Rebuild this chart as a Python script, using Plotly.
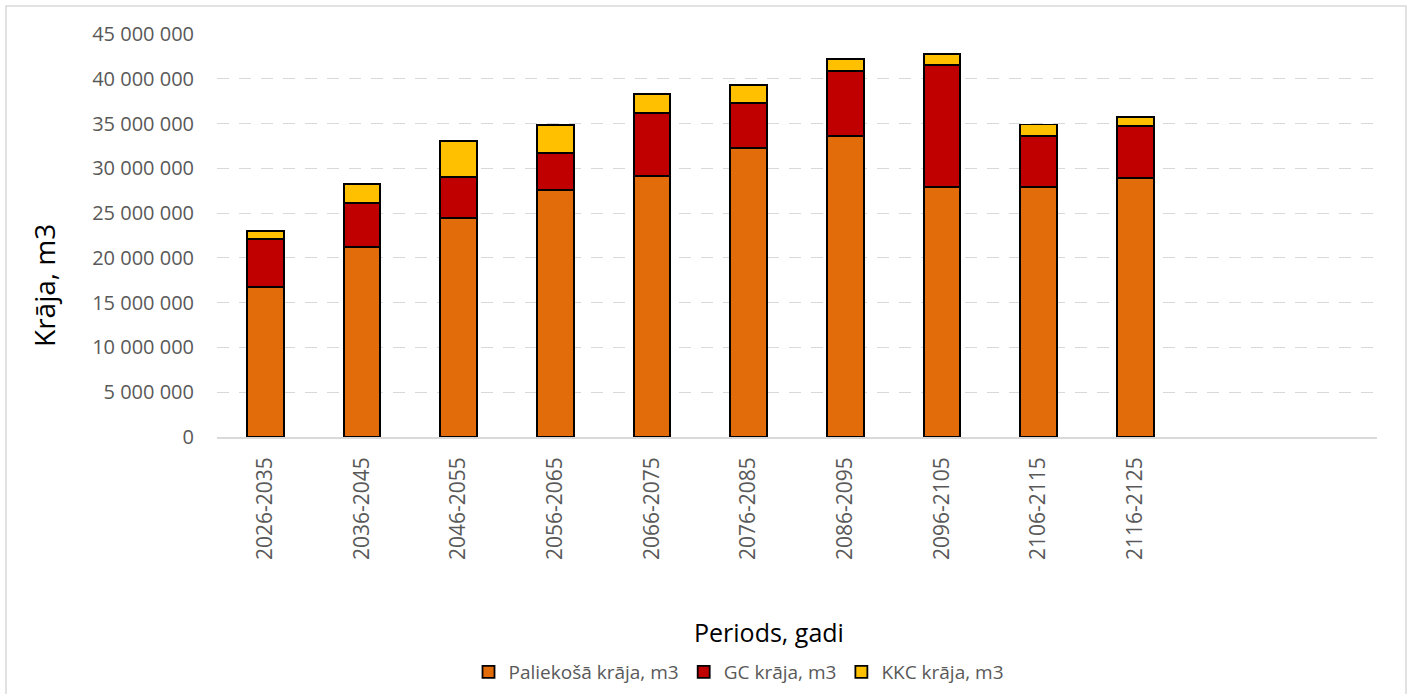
import plotly.graph_objects as go

periods = ["2026-2035", "2036-2045", "2046-2055", "2056-2065", "2066-2075",
           "2076-2085", "2086-2095", "2096-2105", "2106-2115", "2116-2125"]
paliekosa = [16.72e6, 21.25e6, 24.45e6, 27.58e6, 29.14e6, 32.23e6, 33.61e6, 27.95e6, 27.95e6, 28.95e6]
gc = [5.42e6, 4.84e6, 4.61e6, 4.17e6, 7.04e6, 5.03e6, 7.29e6, 13.62e6, 5.65e6, 5.78e6]
kkc = [0.90e6, 2.16e6, 4.02e6, 3.12e6, 2.12e6, 2.04e6, 1.30e6, 1.19e6, 1.30e6, 1.04e6]

series_names = ["Paliekošā krāja, m3", "GC krāja, m3", "KKC krāja, m3"]
colors = ["#E36C0A", "#C00000", "#FFC000"]

FONT = "Open Sans"
GRAY = "#595959"

fig = go.Figure()
for name, vals, col in zip(series_names, [paliekosa, gc, kkc], colors):
    fig.add_trace(go.Bar(
        x=periods, y=vals, name=name, width=0.38,
        marker=dict(color=col, line=dict(color="#000000", width=1.8)),
    ))

W, H = 1412, 694
L, R, T, B = 217, 35, 34, 257
pw, ph = W - L - R, H - T - B

def px_x(x):
    return (x - L) / pw

def px_y(y):
    return (H - B - y) / ph

fig.update_layout(
    template="none",
    barmode="stack",
    width=W, height=H,
    margin=dict(l=L, r=R, t=T, b=B, autoexpand=False),
    paper_bgcolor="white", plot_bgcolor="white",
    separators=", ",
    font=dict(family=FONT, color=GRAY, size=20),
    showlegend=True,
    legend=dict(orientation="h", x=px_x(739), y=px_y(672), xanchor="center", yanchor="middle",
                font=dict(family=FONT, size=19, color=GRAY), traceorder="normal",
                itemwidth=30, bgcolor="rgba(0,0,0,0)"),
    xaxis=dict(type="category", range=[-0.5, 11.5], tickangle=-90, showgrid=False,
               showline=True, linecolor="#D9D9D9", linewidth=1.5, ticks="",
               automargin=False, ticklabelstandoff=10,
               tickfont=dict(family=FONT, size=21, color=GRAY)),
    yaxis=dict(range=[0, 45e6], dtick=5e6, tickformat=",d", showgrid=True,
               gridcolor="#D9D9D9", gridwidth=1.3, griddash="12px,10px",
               zeroline=False, showline=False, ticks="", ticklabelstandoff=22,
               automargin=False,
               tickfont=dict(family=FONT, size=20, color=GRAY)),
    annotations=[
        dict(text="Krāja, m3", xref="paper", yref="paper", x=px_x(44), y=px_y(286),
             xanchor="center", yanchor="middle", textangle=-90, showarrow=False,
             font=dict(family=FONT, size=28, color="#000000")),
        dict(text="Periods, gadi", xref="paper", yref="paper", x=px_x(769), y=px_y(632),
             xanchor="center", yanchor="middle", showarrow=False,
             font=dict(family=FONT, size=25, color="#000000")),
    ],
    shapes=[
        dict(type="rect", xref="paper", yref="paper",
             x0=px_x(6), x1=px_x(1406), y0=px_y(710), y1=px_y(6),
             line=dict(color="#D9D9D9", width=1.5), fillcolor="rgba(0,0,0,0)", layer="below"),
    ],
)

fig.write_html("out.html")
